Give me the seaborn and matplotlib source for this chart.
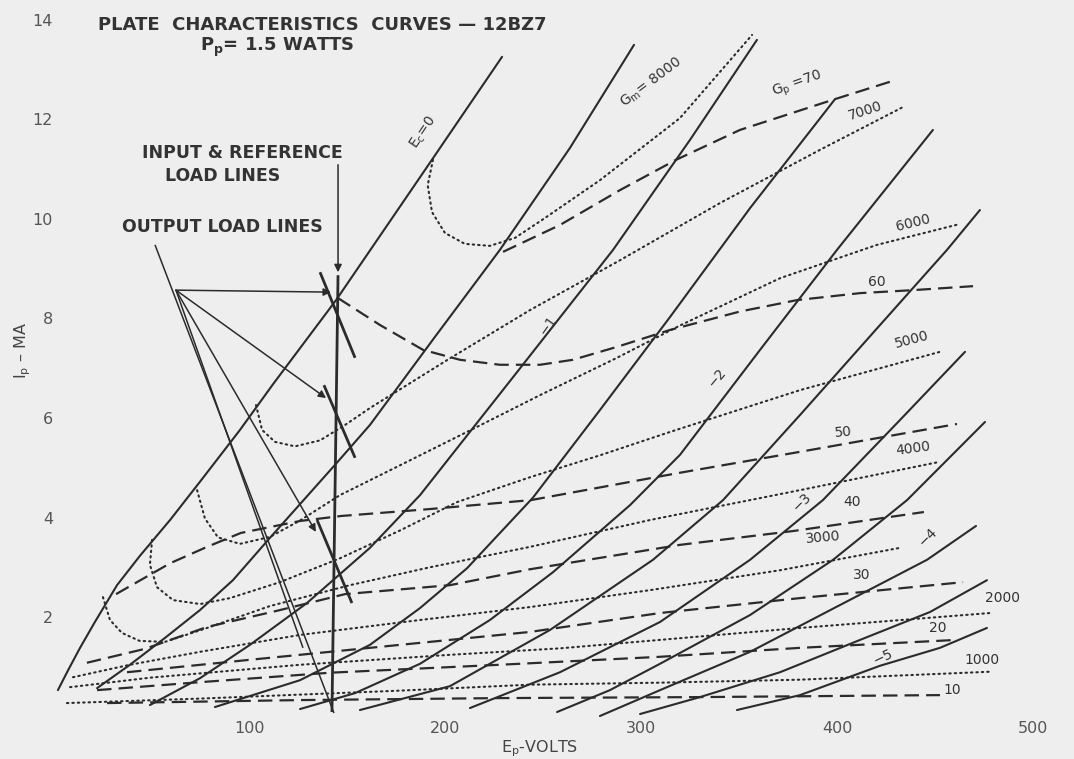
import matplotlib
matplotlib.use("Agg")
import matplotlib.pyplot as plt
import numpy as np
import pandas as pd
import seaborn as sns

# ---------------------------------------------------------------
# 12BZ7 plate characteristics: Ep (volts) vs Ip (mA)
# ---------------------------------------------------------------

# Plate curves, one per grid bias Ec (volts)
ec_0_ep = [2.0, 7.2, 13.3, 20.9, 32.2, 43.9, 59.3, 74.6, 95.0, 111.9, 144.1, 187.0, 228.9]
ec_0_ip = [0.53, 0.93, 1.38, 1.90, 2.64, 3.23, 3.95, 4.72, 5.76, 6.68, 8.37, 10.84, 13.26]
ec_05_ep = [22.0, 38.8, 56.7, 74.6, 91.4, 110.3, 125.7, 143.6, 161.4, 194.6, 227.8, 263.6, 296.3]
ec_05_ip = [0.57, 1.04, 1.58, 2.14, 2.74, 3.59, 4.27, 5.06, 5.86, 7.63, 9.38, 11.43, 13.50]
ec_1_ep = [49.0, 74.6, 100.1, 129.2, 161.4, 187.0, 238.1, 285.6, 324.9, 359.1]
ec_1_ip = [0.23, 0.77, 1.44, 2.28, 3.39, 4.45, 7.00, 9.38, 11.59, 13.60]
ec_15_ep = [82.2, 125.7, 161.4, 187.0, 211.0, 244.7, 278.9, 314.7, 355.6, 399.0]
ec_15_ip = [0.19, 0.73, 1.44, 2.18, 2.98, 4.40, 6.16, 8.03, 10.22, 12.41]
ec_2_ep = [125.7, 153.8, 187.0, 222.7, 254.9, 294.3, 319.8, 360.7, 400.0, 449.0]
ec_2_ip = [0.15, 0.47, 1.06, 1.94, 2.90, 4.25, 5.26, 7.37, 9.38, 11.79]
ec_25_ep = [156.3, 202.3, 253.4, 306.0, 341.8, 381.1, 422.0, 456.2, 473.0]
ec_25_ip = [0.13, 0.61, 1.74, 3.15, 4.35, 6.06, 7.87, 9.38, 10.18]
ec_3_ep = [212.5, 258.5, 309.6, 355.6, 392.8, 432.2, 465.4]
ec_3_ip = [0.17, 0.89, 1.90, 3.15, 4.35, 5.96, 7.33]
ec_35_ep = [257.0, 284.0, 309.6, 355.6, 398.0, 435.8, 475.6]
ec_35_ip = [0.09, 0.53, 1.06, 2.04, 3.15, 4.35, 5.92]
ec_4_ep = [278.9, 309.6, 355.6, 401.5, 446.0, 471.0]
ec_4_ip = [0.01, 0.53, 1.30, 2.24, 3.15, 3.83]
ec_45_ep = [299.4, 330.0, 370.9, 411.8, 447.5, 476.6]
ec_45_ip = [0.05, 0.39, 0.89, 1.54, 2.10, 2.74]
ec_5_ep = [348.9, 381.1, 422.0, 452.6, 476.6]
ec_5_ip = [0.13, 0.43, 1.02, 1.38, 1.78]

# Constant plate-conductance contours Gp (dashed)
gp_70_ep = [229.4, 258.5, 289.1, 317.8, 350.4, 399.0, 429.6]
gp_70_ip = [9.34, 9.88, 10.58, 11.19, 11.79, 12.41, 12.79]
gp_60_ep = [145.1, 166.5, 188.5, 207.4, 227.8, 248.3, 265.1, 287.6, 314.7,
            350.4, 379.6, 411.8, 438.8, 469.5]
gp_60_ip = [8.41, 7.87, 7.37, 7.17, 7.07, 7.07, 7.17, 7.43, 7.77,
            8.14, 8.37, 8.51, 8.57, 8.65]
gp_50_ep = [31.7, 59.3, 78.2, 95.5, 125.7, 146.6, 192.1, 243.7, 319.8, 381.1, 461.3]
gp_50_ip = [2.46, 3.08, 3.41, 3.69, 3.93, 4.03, 4.17, 4.35, 4.90, 5.32, 5.88]
gp_40_ep = [16.8, 46.5, 78.2, 113.4, 148.7, 202.3, 243.2, 319.8, 378.0, 444.4]
gp_40_ip = [1.08, 1.36, 1.80, 2.12, 2.46, 2.64, 2.96, 3.45, 3.73, 4.11]
gp_30_ep = [37.3, 100.1, 161.4, 243.2, 309.6, 381.1, 464.4]
gp_30_ip = [0.89, 1.14, 1.38, 1.70, 2.08, 2.38, 2.70]
gp_20_ep = [22.0, 74.6, 141.0, 227.8, 309.6, 381.1, 461.3]
gp_20_ip = [0.53, 0.69, 0.88, 1.04, 1.20, 1.38, 1.54]
gp_10_ep = [27.1, 125.7, 227.8, 330.0, 452.6]
gp_10_ip = [0.27, 0.33, 0.37, 0.39, 0.43]

# Constant transconductance contours Gm (dotted)
gm_8000_ep = [193.6, 190.9, 193.1, 199.7, 209.9, 222.7, 235.5, 250.8, 278.9, 319.8, 356.6]
gm_8000_ip = [11.19, 10.68, 10.14, 9.72, 9.50, 9.46, 9.62, 10.02, 10.78, 12.03, 13.70]
gm_7000_ep = [103.2, 106.3, 112.9, 123.1, 135.9, 148.7, 161.4, 202.3, 243.2,
              289.1, 340.2, 391.3, 434.7]
gm_7000_ip = [6.26, 5.76, 5.52, 5.43, 5.55, 5.86, 6.20, 7.20, 8.17,
              9.17, 10.32, 11.39, 12.27]
gm_6000_ep = [73.1, 77.1, 83.8, 95.0, 110.3, 125.7, 146.1, 176.8, 212.5, 248.3,
              287.6, 319.8, 370.9, 420.4, 462.8]
gm_6000_ip = [4.55, 3.98, 3.60, 3.47, 3.61, 3.94, 4.45, 5.05, 5.75, 6.46,
              7.21, 7.86, 8.81, 9.48, 9.90]
gm_5000_ep = [50.1, 49.0, 52.6, 60.8, 74.6, 89.9, 115.4, 146.1, 176.8, 205.9,
              243.2, 278.9, 314.7, 381.1, 452.6]
gm_5000_ip = [3.55, 3.05, 2.60, 2.34, 2.26, 2.38, 2.70, 3.18, 3.74, 4.31,
              4.81, 5.25, 5.72, 6.56, 7.33]
gm_4000_ep = [25.0, 28.6, 34.7, 43.7, 56.7, 78.2, 110.3, 151.2, 192.1, 243.2,
              304.5, 381.1, 452.6]
gm_4000_ip = [2.40, 1.94, 1.68, 1.52, 1.50, 1.78, 2.22, 2.64, 3.00, 3.41,
              3.95, 4.55, 5.12]
gm_3000_ep = [9.7, 38.8, 74.6, 125.7, 187.0, 243.2, 304.5, 370.9, 432.2]
gm_3000_ip = [0.79, 1.04, 1.30, 1.64, 1.94, 2.20, 2.54, 2.94, 3.39]
gm_2000_ep = [8.2, 49.0, 125.7, 202.3, 258.5, 309.6, 381.1, 478.2]
gm_2000_ip = [0.59, 0.78, 1.04, 1.24, 1.37, 1.54, 1.78, 2.08]
gm_1000_ep = [6.6, 74.6, 176.8, 243.2, 309.6, 381.1, 478.2]
gm_1000_ip = [0.27, 0.36, 0.52, 0.64, 0.68, 0.74, 0.90]

# Load lines
ref_load_ep = [145.1, 142.0]
ref_load_ip = [8.87, 0.09]
out_seg_a_ep = [135.9, 153.8]
out_seg_a_ip = [8.93, 7.21]
out_seg_b_ep = [137.9, 153.8]
out_seg_b_ip = [6.66, 5.20]
out_seg_c_ep = [134.4, 152.2]
out_seg_c_ip = [3.95, 2.28]
out_pointer_ep = [51.6, 143.0]
out_pointer_ip = [9.48, 0.07]
out_long_ep = [62.3, 127.2]
out_long_ip = [8.57, 1.38]

# ---------------------------------------------------------------
curves = {
    "ec": [(ec_0_ep, ec_0_ip), (ec_05_ep, ec_05_ip), (ec_1_ep, ec_1_ip),
           (ec_15_ep, ec_15_ip), (ec_2_ep, ec_2_ip), (ec_25_ep, ec_25_ip),
           (ec_3_ep, ec_3_ip), (ec_35_ep, ec_35_ip), (ec_4_ep, ec_4_ip),
           (ec_45_ep, ec_45_ip), (ec_5_ep, ec_5_ip)],
    "gp": [(gp_70_ep, gp_70_ip), (gp_60_ep, gp_60_ip), (gp_50_ep, gp_50_ip),
           (gp_40_ep, gp_40_ip), (gp_30_ep, gp_30_ip), (gp_20_ep, gp_20_ip),
           (gp_10_ep, gp_10_ip)],
    "gm": [(gm_8000_ep, gm_8000_ip), (gm_7000_ep, gm_7000_ip),
           (gm_6000_ep, gm_6000_ip), (gm_5000_ep, gm_5000_ip),
           (gm_4000_ep, gm_4000_ip), (gm_3000_ep, gm_3000_ip),
           (gm_2000_ep, gm_2000_ip), (gm_1000_ep, gm_1000_ip)],
}
rows = []
for fam, lst in curves.items():
    for k, (ep, ip) in enumerate(lst):
        for j, (x, y) in enumerate(zip(ep, ip)):
            rows.append({"family": fam, "curve": f"{fam}{k}", "order": j,
                         "ep": x, "ip": y})
df = pd.DataFrame(rows)

sns.set_theme(style="white")
plt.rcParams["font.family"] = ["DejaVu Sans"]

INK = "#2b2b2b"
PAPER = "#eeeeee"

W, H = 1074, 759
LEFT = 60
fig = plt.figure(figsize=(W / 100, H / 100), dpi=100, facecolor=PAPER)
ax = fig.add_axes([LEFT / W, (H - 716.5) / H, (W - LEFT) / W, 716.5 / H])
ax.set_facecolor(PAPER)
ax.set_xlim((LEFT - 54) / 1.9575, (W - 54) / 1.9575)
ax.set_ylim(0, 716.5 / 49.75)

styles = {
    "ec": dict(linestyle="-", lw=1.5),
    "gp": dict(linestyle=(0, (6.5, 3.2)), lw=1.6),
    "gm": dict(linestyle=(0, (0.7, 1.9)), lw=1.5, dash_capstyle="round"),
}
for fam, st in styles.items():
    sub = df[df["family"] == fam]
    sns.lineplot(data=sub, x="ep", y="ip", units="curve", estimator=None,
                 sort=False, color=INK, ax=ax, legend=False, clip_on=False, **st)

# load lines
for ep, ip, lw in [(ref_load_ep, ref_load_ip, 2.0),
                   (out_seg_a_ep, out_seg_a_ip, 2.0),
                   (out_seg_b_ep, out_seg_b_ip, 2.0),
                   (out_seg_c_ep, out_seg_c_ip, 2.0),
                   (out_pointer_ep, out_pointer_ip, 1.1),
                   (out_long_ep, out_long_ip, 1.1)]:
    ax.plot(ep, ip, color=INK, lw=lw, solid_capstyle="butt", clip_on=False)

arrow = dict(arrowstyle="-|>", color=INK, lw=1.1, mutation_scale=11,
             shrinkA=0, shrinkB=0)
hub = (62.3, 8.57)
for tip in [(141.5, 8.53), (139.0, 6.40), (133.8, 3.71)]:
    ax.annotate("", xy=tip, xytext=hub, arrowprops=arrow)
ax.annotate("", xy=(145.1, 8.93), xytext=(145.1, 11.09), arrowprops=arrow)

# axes dressing
ax.set_xticks([100, 200, 300, 400, 500])
ax.set_yticks([2, 4, 6, 8, 10, 12, 14])
ax.tick_params(axis="both", length=0, labelsize=11.5, labelcolor="#555555")
ax.tick_params(axis="y", pad=5)
ax.tick_params(axis="x", pad=3)
for s in ax.spines.values():
    s.set_visible(False)
ax.set_xlabel(r"E$_\mathregular{p}$-VOLTS", fontsize=11.5, color="#444444")
ax.xaxis.set_label_coords((540 - LEFT) / (W - LEFT), -0.031)
ax.set_ylabel(r"I$_\mathregular{p}$ – MA", fontsize=11.5, color="#444444")
ax.yaxis.set_label_coords((33 - LEFT) / (W - LEFT), (716.5 - 350) / 716.5)

# titles and callouts
fig.text(322 / W, 1 - 25 / H, "PLATE  CHARACTERISTICS  CURVES — 12BZ7",
         ha="center", va="center", fontsize=13, fontweight="bold", color="#333333")
fig.text(277 / W, 1 - 47 / H, r"P$_\mathregular{p}$= 1.5 WATTS",
         ha="center", va="center", fontsize=13, fontweight="bold", color="#333333")
fig.text(242 / W, 1 - 153 / H, "INPUT & REFERENCE", ha="center", va="center",
         fontsize=12.5, fontweight="bold", color="#333333")
fig.text(223 / W, 1 - 176 / H, "LOAD LINES", ha="center", va="center",
         fontsize=12.5, fontweight="bold", color="#333333")
fig.text(222 / W, 1 - 227 / H, "OUTPUT LOAD LINES", ha="center", va="center",
         fontsize=12.5, fontweight="bold", color="#333333")

labels = [
    (r"E$_\mathregular{c}$=0", 188.5, 11.73, 56),
    (r"G$_\mathregular{m}$= 8000", 305.0, 12.75, 37),
    (r"G$_\mathregular{p}$ =70", 379.6, 12.70, 20),
    ("7000", 414.3, 12.17, 18),
    ("6000", 438.8, 9.92, 14),
    ("60", 420.4, 8.73, 0),
    ("5000", 438.3, 7.57, 15),
    ("50", 403.1, 5.72, 5),
    ("4000", 438.8, 5.38, 8),
    ("\u22121", 252.4, 7.87, 55),
    ("\u22122", 338.7, 6.82, 50),
    ("\u22123", 382.1, 4.31, 45),
    ("40", 407.7, 4.31, 0),
    ("3000", 392.8, 3.59, 5),
    ("\u22124", 446.5, 3.61, 45),
    ("30", 412.8, 2.85, 0),
    ("2000", 484.3, 2.38, 0),
    ("20", 451.6, 1.78, 0),
    ("\u22125", 423.5, 1.20, 25),
    ("1000", 474.1, 1.14, 0),
    ("10", 458.7, 0.53, 0),
]
for txt, x, y, rot in labels:
    ax.text(x, y, txt, ha="center", va="center", rotation=rot,
            rotation_mode="anchor", fontsize=10, color="#333333")

fig.savefig("out.png", dpi=100, facecolor=PAPER)
